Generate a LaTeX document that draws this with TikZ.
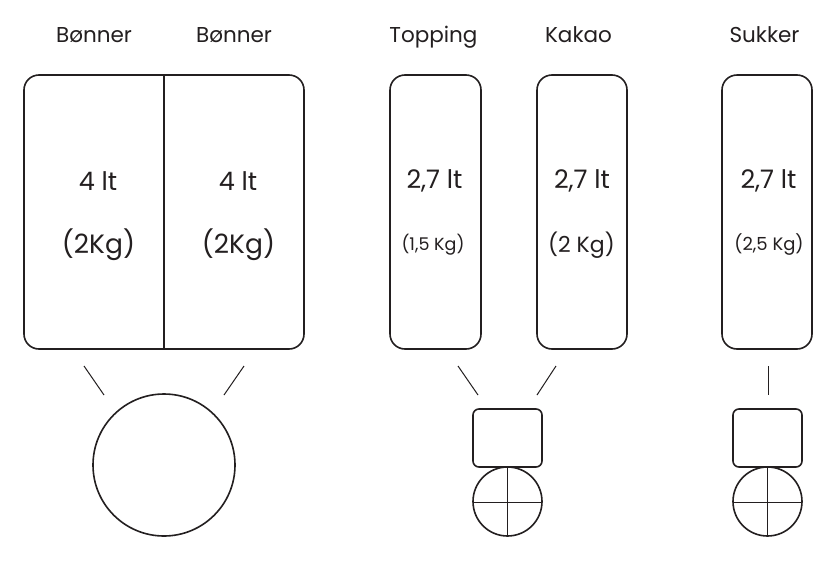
\documentclass[tikz,border=0pt]{standalone}
\usepackage{fontspec}
\setmainfont{Poppins}
\definecolor{ink}{HTML}{231F20}
\begin{document}
\begin{tikzpicture}[x=1pt,y=-1pt,
  every path/.style={draw=ink,line width=1.6pt},
  tank/.style={draw=ink,line width=1.6pt,rounded corners=15pt},
  smallbox/.style={draw=ink,line width=1.6pt,rounded corners=6pt},
  lbl/.style={text=ink,anchor=base,font=\fontsize{21.5}{24}\selectfont},
  big/.style={text=ink,font=\fontsize{25.5}{28}\selectfont},
  mid/.style={text=ink,font=\fontsize{22}{25}\selectfont},
  sml/.style={text=ink,font=\fontsize{17.5}{20}\selectfont},
  thin/.style={draw=ink,line width=1pt}]
\useasboundingbox[fill=white,draw=none] (0,0) rectangle (838,560);
% tanks
\draw[tank] (24,75) rectangle (304,349);
\draw[line width=1.6pt] (164,75) -- (164,349);
\draw[tank] (390,75) rectangle (481,349);
\draw[tank] (537,75) rectangle (627,349);
\draw[tank] (722,75) rectangle (812,349);
% labels
\node[lbl] (l1) at (94,42) {Bønner};
\node[lbl] (l2) at (234,42) {Bønner};
\node[lbl] (l3) at (433.5,42) {Topping};
\node[lbl] (l4) at (578.5,42) {Kakao};
\node[lbl] (l5) at (764.5,42) {Sukker};
% contents
\node[big] (a1) at (98,181) {4 lt};
\node[big,font=\fontsize{26.5}{29}\selectfont] (b1) at (98.5,245) {(2Kg)};
\node[big] (a2) at (238,181) {4 lt};
\node[big,font=\fontsize{26.5}{29}\selectfont] (b2) at (238.5,245) {(2Kg)};
\node[big] (a3) at (434.5,181) {2,7 lt};
\node[sml] (b3) at (433,245) {(1,5 Kg)};
\node[big] (a4) at (582,181) {2,7 lt};
\node[mid] (b4) at (581.5,245) {(2 Kg)};
\node[big] (a5) at (768.5,181) {2,7 lt};
\node[sml,font=\fontsize{18}{20}\selectfont] (b5) at (769,245) {(2,5 Kg)};
% connectors
\draw[thin] (84,366) -- (104,395);
\draw[thin] (244,366) -- (224,395);
\draw[thin] (458,366) -- (478,395);
\draw[thin] (556,366) -- (537,395);
\draw[thin] (768,366) -- (768,395);
% big circle
\draw (164,465) circle[radius=71];
% small units
\draw[smallbox] (473,409) rectangle (542,467);
\draw (507.5,501.5) circle[radius=34.5];
\draw[thin] (507.5,467) -- (507.5,536);
\draw[thin] (473,502) -- (542,502);
\draw[smallbox] (733,409) rectangle (802,467);
\draw (767.5,501.5) circle[radius=34.5];
\draw[thin] (767.5,467) -- (767.5,536);
\draw[thin] (733,502) -- (802,502);
\end{tikzpicture}
\end{document}
